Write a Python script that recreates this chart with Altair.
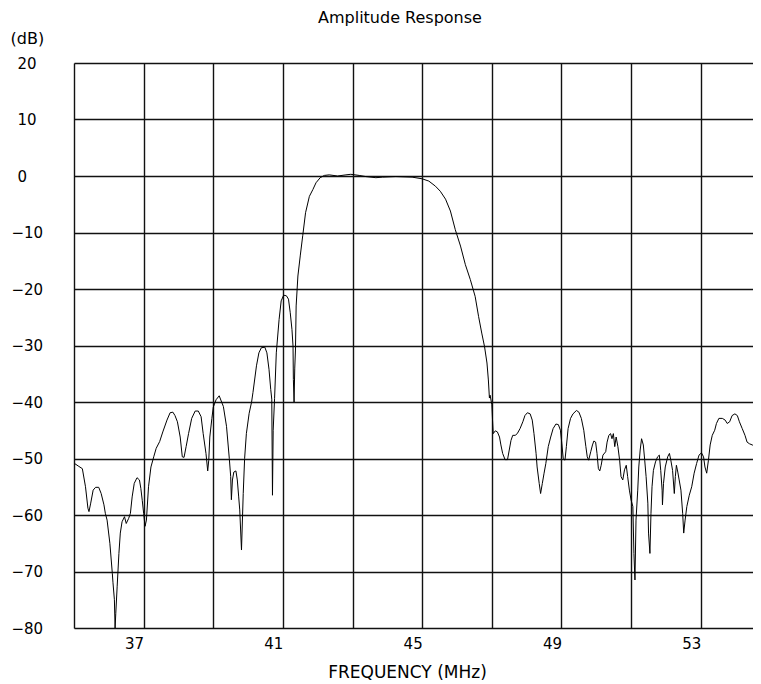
import altair as alt
import pandas as pd

freq_mhz = [
    35.02, 35.14, 35.24, 35.33, 35.40, 35.43, 35.48, 35.55, 35.62, 35.71,
    35.78, 35.86, 35.90, 35.95, 36.03, 36.10, 36.12, 36.16, 36.18, 36.20,
    36.24, 36.29, 36.33, 36.38, 36.45, 36.50, 36.57, 36.62, 36.67, 36.73,
    36.81, 36.88, 36.92, 36.96, 37.00, 37.04, 37.08, 37.14, 37.21, 37.29,
    37.36, 37.46, 37.55, 37.67, 37.76, 37.84, 37.90, 37.97, 38.05, 38.11,
    38.16, 38.22, 38.29, 38.38, 38.48, 38.57, 38.65, 38.71, 38.79, 38.84,
    38.87, 38.90, 38.96, 39.00, 39.08, 39.17, 39.29, 39.38, 39.46, 39.50,
    39.52, 39.55, 39.59, 39.65, 39.69, 39.73, 39.76, 39.81, 39.86, 39.90,
    39.95, 40.03, 40.10, 40.14, 40.24, 40.31, 40.38, 40.48, 40.54, 40.60,
    40.65, 40.68, 40.70, 40.72, 40.76, 40.81, 40.89, 40.95, 41.02, 41.10,
    41.16, 41.21, 41.26, 41.29, 41.30, 41.32, 41.34, 41.36, 41.38, 41.43,
    41.50, 41.57, 41.65, 41.76, 41.86, 41.95, 42.07, 42.19, 42.33, 42.57,
    42.81, 42.95, 43.19, 43.38, 43.67, 43.86, 44.24, 44.71, 45.00, 45.19,
    45.38, 45.52, 45.67, 45.81, 45.95, 46.10, 46.24, 46.38, 46.52, 46.62,
    46.71, 46.79, 46.86, 46.90, 46.93, 46.95, 47.00, 47.02, 47.04, 47.10,
    47.16, 47.22, 47.26, 47.31, 47.38, 47.45, 47.50, 47.55, 47.60, 47.67,
    47.73, 47.81, 47.89, 47.95, 48.02, 48.10, 48.16, 48.21, 48.27, 48.30,
    48.36, 48.40, 48.45, 48.50, 48.55, 48.62, 48.69, 48.76, 48.84, 48.91,
    48.97, 49.01, 49.05, 49.10, 49.14, 49.19, 49.26, 49.33, 49.43, 49.50,
    49.57, 49.64, 49.70, 49.74, 49.78, 49.84, 49.89, 49.93, 49.98, 50.02,
    50.06, 50.10, 50.14, 50.19, 50.27, 50.31, 50.36, 50.41, 50.45, 50.49,
    50.53, 50.57, 50.62, 50.67, 50.71, 50.76, 50.81, 50.86, 50.90, 50.95,
    51.00, 51.05, 51.08, 51.11, 51.14, 51.19, 51.22, 51.26, 51.30, 51.35,
    51.39, 51.43, 51.48, 51.50, 51.54, 51.57, 51.60, 51.64, 51.70, 51.76,
    51.81, 51.85, 51.89, 51.90, 51.93, 51.98, 52.05, 52.10, 52.14, 52.19,
    52.24, 52.27, 52.30, 52.34, 52.38, 52.43, 52.48, 52.51, 52.55, 52.60,
    52.67, 52.74, 52.81, 52.88, 52.95, 53.02, 53.08, 53.12, 53.17, 53.22,
    53.27, 53.33, 53.40, 53.45, 53.52, 53.62, 53.70, 53.76, 53.83, 53.90,
    53.98, 54.05, 54.11, 54.19, 54.27, 54.33, 54.40, 54.48, 54.55, 54.62,
    54.70,
]

amplitude_db = [
    -50.9, -51.4, -51.8, -55.0, -58.8, -59.4, -57.9, -55.6, -55.1, -55.1,
    -56.2, -58.2, -59.7, -60.9, -65.0, -70.3, -72.0, -75.0, -80.0, -77.4,
    -72.6, -66.8, -63.2, -61.2, -60.3, -61.5, -60.6, -59.7, -56.8, -54.4,
    -53.4, -53.8, -55.3, -57.4, -59.7, -62.0, -60.9, -55.0, -51.5, -49.7,
    -48.2, -47.0, -45.3, -43.2, -41.9, -41.8, -42.4, -43.5, -46.2, -49.7,
    -49.8, -47.9, -45.6, -42.9, -41.6, -41.6, -42.6, -45.6, -49.1, -52.2,
    -50.3, -46.2, -42.9, -40.9, -39.6, -38.9, -40.8, -44.3, -50.0, -53.2,
    -57.3, -53.8, -52.4, -52.2, -53.8, -56.8, -59.1, -66.2, -56.2, -50.0,
    -45.6, -42.0, -40.0, -38.3, -33.6, -31.3, -30.4, -30.3, -31.3, -34.2,
    -37.8, -39.5, -56.5, -45.0, -39.4, -31.3, -25.4, -22.1, -21.1, -21.2,
    -21.8, -24.2, -27.2, -30.1, -36.0, -40.0, -34.0, -30.8, -23.0, -17.7,
    -14.0, -10.5, -6.5, -3.6, -2.4, -1.2, -0.3, 0.1, 0.2, 0.0,
    0.2, 0.3, 0.1, -0.1, -0.3, -0.2, -0.1, -0.2, -0.5, -0.9,
    -1.8, -2.7, -4.1, -6.2, -9.5, -12.4, -15.7, -18.3, -21.3, -24.9,
    -27.8, -30.2, -33.1, -36.1, -39.3, -38.8, -40.5, -43.2, -45.6, -45.1,
    -45.3, -46.2, -47.6, -49.1, -50.2, -50.2, -48.5, -46.8, -45.9, -45.9,
    -45.6, -44.7, -43.5, -42.4, -41.9, -42.1, -43.2, -45.6, -49.1, -51.5,
    -54.4, -56.2, -54.4, -52.6, -50.9, -47.9, -46.2, -44.7, -43.9, -44.0,
    -45.0, -47.4, -50.0, -50.3, -47.9, -44.7, -42.9, -42.1, -41.5, -41.8,
    -42.9, -45.0, -47.9, -49.7, -50.3, -48.8, -47.6, -46.9, -47.1, -49.1,
    -51.8, -52.2, -51.2, -49.4, -48.8, -47.1, -45.9, -45.6, -46.5, -45.6,
    -47.9, -46.2, -47.9, -50.3, -53.2, -53.8, -52.0, -51.2, -53.2, -55.6,
    -57.4, -58.5, -66.8, -71.5, -60.9, -55.6, -51.5, -48.5, -46.5, -47.6,
    -50.3, -53.2, -57.9, -63.2, -66.8, -59.7, -55.0, -52.1, -50.6, -49.7,
    -49.4, -52.1, -55.6, -58.2, -54.4, -51.5, -49.7, -49.1, -50.3, -52.1,
    -56.2, -53.2, -51.2, -52.4, -53.8, -55.6, -59.7, -63.2, -60.9, -58.5,
    -56.5, -55.0, -52.6, -50.9, -49.4, -49.0, -49.7, -51.5, -52.6, -50.3,
    -47.6, -45.9, -45.0, -43.8, -42.9, -42.9, -43.2, -43.8, -43.5, -42.4,
    -42.1, -42.4, -43.5, -44.7, -45.9, -47.1, -47.4, -47.6, -47.9, -48.2,
    -47.9,
]

x_grid = [35, 37, 39, 41, 43, 45, 47, 49, 51, 53]
y_ticks = [-80, -70, -60, -50, -40, -30, -20, -10, 0, 10, 20]

df = pd.DataFrame({"f": freq_mhz, "db": amplitude_db})

FONT = "DejaVu Sans"

chart = (
    alt.Chart(df)
    .mark_line(color="black", strokeWidth=1, clip=True)
    .encode(
        x=alt.X(
            "f:Q",
            scale=alt.Scale(domain=[35, 54.5], nice=False, zero=False),
            axis=alt.Axis(
                values=x_grid,
                labelExpr="datum.value % 4 == 1 ? datum.label : ''",
                grid=True,
                gridColor="#111111",
                gridWidth=1.4,
                domain=False,
                ticks=False,
                tickSize=0,
                labelAlign="right",
                labelBaseline="top",
                labelPadding=8,
                labelFlush=False,
                labelOverlap=False,
                labelFont=FONT,
                labelFontSize=15,
                labelColor="black",
                title="FREQUENCY (MHz)",
                titleFont=FONT,
                titleFontSize=17,
                titleFontWeight="normal",
                titleColor="black",
                titleAnchor="start",
                titleAlign="center",
                titleBaseline="top",
                titleX=333,
                titleY=36,
            ),
        ),
        y=alt.Y(
            "db:Q",
            scale=alt.Scale(domain=[-80, 20], nice=False, zero=False),
            axis=alt.Axis(
                values=y_ticks,
                grid=True,
                gridColor="#111111",
                gridWidth=1.4,
                domain=False,
                ticks=False,
                tickSize=0,
                labelAlign="left",
                labelBaseline="middle",
                labelPadding={"condition": {"test": "datum.value < 0", "value": 63}, "value": 57},
                labelFlush=False,
                labelOverlap=False,
                labelFont=FONT,
                labelFontSize=15,
                labelColor="black",
                title="(dB)",
                titleFont=FONT,
                titleFontSize=16,
                titleFontWeight="normal",
                titleColor="black",
                titleAngle=0,
                titleAlign="left",
                titleBaseline="top",
                titleX=-64,
                titleY=-33,
            ),
        ),
    )
    .properties(
        width=679,
        height=565,
        autosize=alt.AutoSizeParams(type="none"),
        padding={"left": 66, "top": 55, "right": 0, "bottom": 52},
        title=alt.TitleParams(
            "Amplitude Response",
            font=FONT,
            fontSize=16,
            fontWeight="normal",
            color="black",
            anchor="start",
            frame="group",
            dx=244,
            baseline="top",
            offset=4,
        ),
    )
    .configure_view(stroke=None)
    .configure(background="white")
)

chart.save("out.html", embed_options={"renderer": "svg", "actions": False})
